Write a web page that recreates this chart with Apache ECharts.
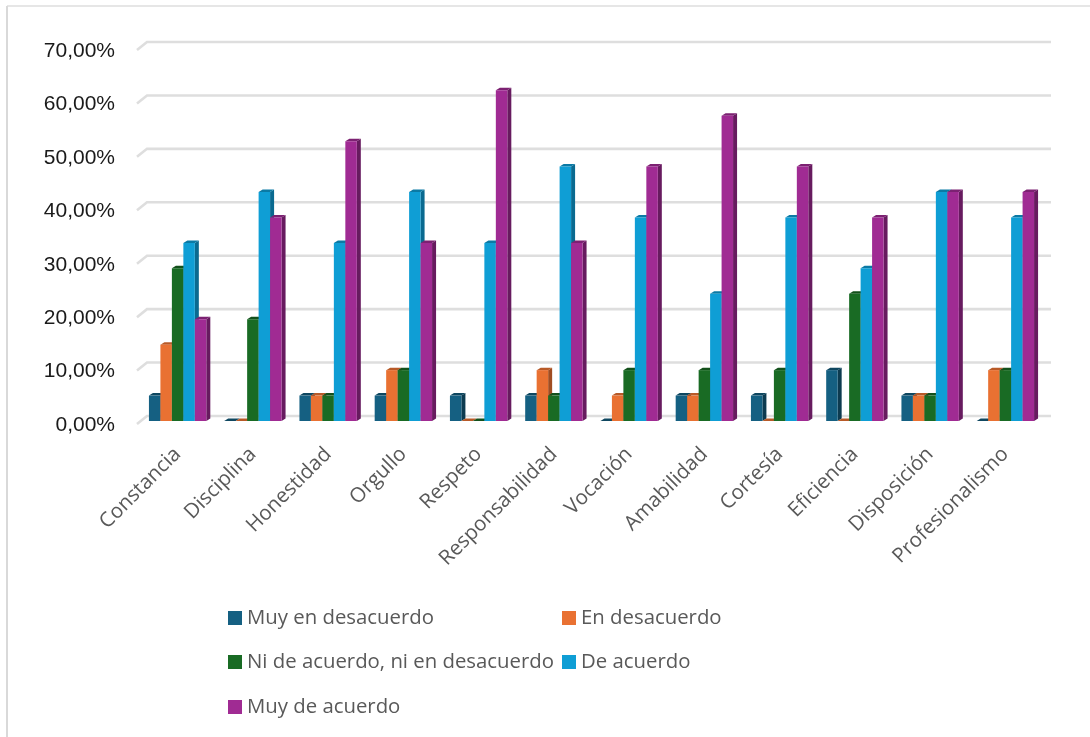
<!DOCTYPE html>
<html><head><meta charset="utf-8">
<style>html,body{margin:0;padding:0;background:#fff}#c{width:1090px;height:737px}</style>
<script src="https://cdn.jsdelivr.net/npm/echarts@6/dist/echarts.min.js"></script>
</head><body><div id="c"></div>
<script>
const categories = ['Constancia','Disciplina','Honestidad','Orgullo','Respeto','Responsabilidad','Vocación','Amabilidad','Cortesía','Eficiencia','Disposición','Profesionalismo'];
const muyEnDesacuerdo = [4.76,0,4.76,4.76,4.76,4.76,0,4.76,4.76,9.52,4.76,0];
const enDesacuerdo = [14.29,0,4.76,9.52,0,9.52,4.76,4.76,0,0,4.76,9.52];
const niDeAcuerdo = [28.57,19.05,4.76,9.52,0,4.76,9.52,9.52,9.52,23.81,4.76,9.52];
const deAcuerdo = [33.33,42.86,33.33,42.86,33.33,47.62,38.10,23.81,38.10,28.57,42.86,38.10];
const muyDeAcuerdo = [19.05,38.10,52.38,33.33,61.90,33.33,47.62,57.14,47.62,38.10,42.86,42.86];
const yTicks = [0,10,20,30,40,50,60,70];
const seriesNames = ['Muy en desacuerdo','En desacuerdo','Ni de acuerdo, ni en desacuerdo','De acuerdo','Muy de acuerdo'];
const seriesValues = [muyEnDesacuerdo,enDesacuerdo,niDeAcuerdo,deAcuerdo,muyDeAcuerdo];
const palette = [
  {front:'#156082',top:'#0f4760',side:'#0d3b50'},
  {front:'#e97132',top:'#b85a28',side:'#a04d22'},
  {front:'#196b24',top:'#13501b',side:'#104416'},
  {front:'#0f9ed5',top:'#0b7aa5',side:'#0a6a90'},
  {front:'#a02b93',top:'#7c2172',side:'#671b5f'}
];
const legendPos = [[228,608],[562,608],[228,652],[562,652],[228,697]];
const FONT = '"Open Sans","Noto Sans",sans-serif';

const chart = echarts.init(document.getElementById('c'),null,{renderer:'canvas'});
const DX = 4, DY = -2.5;

function barRenderer(si){
  return function(params, api){
    const cat = api.value(0), val = api.value(1);
    const base = api.coord([cat,0]), top = api.coord([cat,val]);
    const band = api.size([1,0])[0];
    const w = band*0.1525;
    const x0 = base[0] - 2.5*w + si*w;
    const x1 = x0 + w;
    const yb = base[1], yt = top[1];
    const c = palette[si];
    return {type:'group',children:[
      {type:'polygon',shape:{points:[[x1,yb],[x1+DX,yb+DY],[x1+DX,yt+DY],[x1,yt]]},style:{fill:c.side}},
      {type:'polygon',shape:{points:[[x0,yt],[x0+DX,yt+DY],[x1+DX,yt+DY],[x1,yt]]},style:{fill:c.top}},
      {type:'rect',shape:{x:x0,y:yt,width:w,height:yb-yt},style:{fill:c.front}}
    ]};
  };
}
function gridRenderer(params, api){
  const p = api.coord([0,api.value(0)]);
  const cs = params.coordSys;
  const y = p[1];
  return {type:'polyline',shape:{points:[[cs.x-3,y+3],[cs.x+7,y-5],[cs.x+cs.width+8,y-5]]},
    style:{fill:null,stroke:'#dedede',lineWidth:2.6}};
}
const option = {
  animation:false,
  backgroundColor:'#fff',
  grid:{left:140,top:47,width:903,height:374},
  xAxis:{type:'category',data:categories,
    axisLine:{show:false},axisTick:{show:false},splitLine:{show:false},
    axisLabel:{rotate:45,interval:0,margin:30,fontSize:20.5,color:'#595959',fontFamily:FONT}},
  yAxis:{type:'value',min:0,max:70,interval:10,
    axisLine:{show:false},axisTick:{show:false},splitLine:{show:false},
    axisLabel:{margin:25,color:'#1a1a1a',
      rich:{t:{fontSize:21,color:'#1a1a1a',padding:[8,0,0,0],fontFamily:'"Liberation Sans",Arial,sans-serif'}},
      formatter:v=>'{t|'+v.toFixed(2).replace('.',',')+'%}'}},
  legend:seriesNames.map((n,i)=>({data:[{name:n,icon:'rect',itemStyle:{color:palette[i].front}}],left:legendPos[i][0],top:legendPos[i][1],
    itemWidth:14,itemHeight:14,selectedMode:false,padding:0,
    textStyle:{fontSize:20.35,color:'#595959',fontFamily:FONT}})),
  graphic:[
    {type:'line',shape:{x1:7,y1:6,x2:1090,y2:6},style:{stroke:'#dedede',lineWidth:1.5},silent:true},
    {type:'line',shape:{x1:7,y1:6,x2:7,y2:737},style:{stroke:'#d9d9d9',lineWidth:2},silent:true}
  ],
  series:[
    {type:'custom',name:'grid',coordinateSystem:'cartesian2d',silent:true,clip:false,z:1,
     data:yTicks.map(v=>[v]),encode:{y:0},renderItem:gridRenderer},
    ...seriesNames.map((n,si)=>({type:'custom',name:n,coordinateSystem:'cartesian2d',clip:false,z:2+si,
      itemStyle:{color:palette[si].front},
      data:categories.map((c,i)=>[i,seriesValues[si][i]]),encode:{x:0,y:1},renderItem:barRenderer(si)}))
  ]
};
chart.setOption(option);
</script></body></html>
